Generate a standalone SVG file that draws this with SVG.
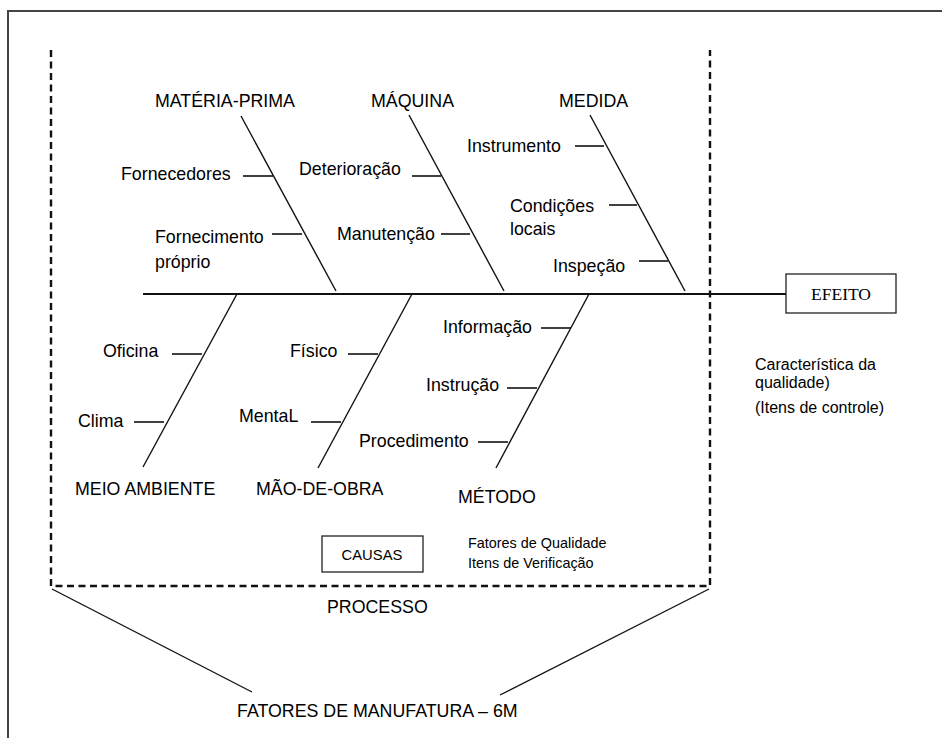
<svg xmlns="http://www.w3.org/2000/svg" width="942" height="738" viewBox="0 0 942 738">
<style>
text{font-family:"Liberation Sans",Arial,sans-serif;fill:#000}
.lbl{font-size:17.8px}
.sm{font-size:16px}
.xs{font-size:14.4px}
.ser{font-family:"Liberation Serif","Times New Roman",serif;font-size:17.5px}
.ln{stroke:#111;stroke-width:1.4;fill:none}
.rib{stroke:#111;stroke-width:1.6;fill:none}
.dash{stroke:#111;stroke-width:2.4;stroke-dasharray:7 4.5;fill:none}
.box{fill:#fff;stroke:#222;stroke-width:1.3}
</style>
<rect x="0" y="0" width="942" height="738" fill="#fff"/>
<rect x="8" y="11" width="960" height="760" fill="none" stroke="#444" stroke-width="2"/>

<g id="connectors">
  <path class="dash" d="M51 50 V586 H710 V50"/>
  <line class="ln" x1="52" y1="589" x2="252" y2="692"/>
  <line class="ln" x1="709" y1="589" x2="500" y2="695"/>
  <line x1="143" y1="294" x2="786" y2="294" stroke="#111" stroke-width="1.8"/>
  <line class="ln" x1="241" y1="116" x2="336" y2="291"/>
  <line class="ln" x1="409" y1="115" x2="504" y2="291"/>
  <line class="ln" x1="590" y1="115" x2="685" y2="291"/>
  <line class="ln" x1="237" y1="294" x2="143" y2="467"/>
  <line class="ln" x1="412" y1="294" x2="318" y2="468"/>
  <line class="ln" x1="589" y1="294" x2="496" y2="468"/>
  <line class="rib" x1="243" y1="176" x2="273" y2="176"/>
  <line class="rib" x1="272" y1="234" x2="302" y2="234"/>
  <line class="rib" x1="412" y1="176" x2="441" y2="176"/>
  <line class="rib" x1="441" y1="234" x2="470" y2="234"/>
  <line class="rib" x1="575" y1="146" x2="604" y2="146"/>
  <line class="rib" x1="609" y1="205" x2="637" y2="205"/>
  <line class="rib" x1="639" y1="261" x2="668" y2="261"/>
  <line class="rib" x1="172" y1="354" x2="202" y2="354"/>
  <line class="rib" x1="134" y1="422" x2="164" y2="422"/>
  <line class="rib" x1="348" y1="354" x2="378" y2="354"/>
  <line class="rib" x1="311" y1="422" x2="341" y2="422"/>
  <line class="rib" x1="541" y1="328" x2="571" y2="328"/>
  <line class="rib" x1="507" y1="388" x2="537" y2="388"/>
  <line class="rib" x1="478" y1="442" x2="508" y2="442"/>
</g>

<g id="materia-prima">
  <text class="lbl" x="155" y="107">MATÉRIA-PRIMA</text>
  <text class="lbl" x="121" y="180">Fornecedores</text>
  <text class="lbl" x="155" y="243">Fornecimento</text>
  <text class="lbl" x="155" y="268">próprio</text>
</g>
<g id="maquina">
  <text class="lbl" x="371" y="107">MÁQUINA</text>
  <text class="lbl" x="299" y="175">Deterioração</text>
  <text class="lbl" x="337" y="240">Manutenção</text>
</g>
<g id="medida">
  <text class="lbl" x="559" y="107">MEDIDA</text>
  <text class="lbl" x="467" y="152">Instrumento</text>
  <text class="lbl" x="510" y="212">Condições</text>
  <text class="lbl" x="510" y="235">locais</text>
  <text class="lbl" x="553" y="272">Inspeção</text>
</g>
<g id="meio-ambiente">
  <text class="lbl" x="75" y="495">MEIO AMBIENTE</text>
  <text class="lbl" x="103" y="357">Oficina</text>
  <text class="lbl" x="78" y="427">Clima</text>
</g>
<g id="mao-de-obra">
  <text class="lbl" x="256" y="495">MÃO-DE-OBRA</text>
  <text class="lbl" x="290" y="357">Físico</text>
  <text class="lbl" x="239" y="422">MentaL</text>
</g>
<g id="metodo">
  <text class="lbl" x="458" y="503">MÉTODO</text>
  <text class="lbl" x="443" y="333">Informação</text>
  <text class="lbl" x="426" y="391">Instrução</text>
  <text class="lbl" x="359" y="447">Procedimento</text>
</g>
<g id="efeito">
  <rect class="box" x="786" y="274" width="110" height="39"/>
  <text class="ser" x="841" y="300" text-anchor="middle">EFEITO</text>
</g>
<g id="caracteristica">
  <text class="sm" x="755" y="370">Característica da</text>
  <text class="sm" x="755" y="388">qualidade)</text>
  <text class="sm" x="755" y="413">(Itens de controle)</text>
</g>
<g id="causas">
  <rect class="box" x="322" y="536" width="101" height="36"/>
  <text class="xs" x="372" y="560" text-anchor="middle" style="font-size:14.8px">CAUSAS</text>
  <text class="xs" x="468" y="548">Fatores de Qualidade</text>
  <text class="xs" x="468" y="568">Itens de Verificação</text>
</g>
<g id="processo">
  <text class="lbl" x="327" y="613">PROCESSO</text>
</g>
<g id="fatores">
  <text class="lbl" x="237" y="717">FATORES DE MANUFATURA – 6M</text>
</g>
</svg>
